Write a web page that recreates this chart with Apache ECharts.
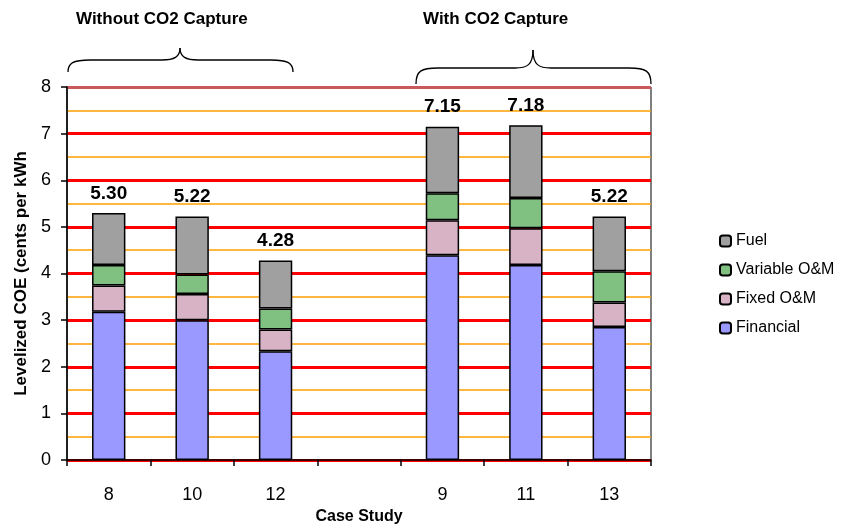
<!DOCTYPE html>
<html>
<head>
<meta charset="utf-8">
<title>Levelized COE by Case Study</title>
<script src="https://cdn.jsdelivr.net/npm/echarts@6/dist/echarts.min.js"></script>
<style>
  html, body { margin: 0; padding: 0; background: #fff; }
  #chart { width: 843px; height: 525px; }
</style>
</head>
<body>
<div id="chart"></div>
<script>
// Case studies (blank slot separates the two groups)
const caseStudies = ['8', '10', '12', '', '9', '11', '13'];

// Cost components, cents per kWh
const financial   = [3.18, 3.00, 2.33, null, 4.39, 4.18, 2.85];
const fixedOM     = [0.56, 0.56, 0.47, null, 0.75, 0.79, 0.53];
const variableOM  = [0.44, 0.42, 0.45, null, 0.58, 0.65, 0.67];
const fuel        = [1.12, 1.24, 1.03, null, 1.43, 1.56, 1.17];

const yTicks = [0, 1, 2, 3, 4, 5, 6, 7, 8];

const groupTitles = ['Without CO2 Capture', 'With CO2 Capture'];

function totalAt(i) {
  if (financial[i] == null) return null;
  return financial[i] + fixedOM[i] + variableOM[i] + fuel[i];
}

const chart = echarts.init(document.getElementById('chart'), null, { renderer: 'canvas' });

const FONT = 'Liberation Sans, Arial, sans-serif';
const barBorder = { borderColor: '#000', borderWidth: 1.5 };

function barSeries(name, data, color, extra) {
  return Object.assign({
    name: name,
    type: 'bar',
    stack: 'coe',
    barWidth: '40%',
    data: data,
    itemStyle: Object.assign({ color: color }, barBorder),
    emphasis: { disabled: true }
  }, extra || {});
}

// Curly brace opening downward, spanning x0..x1 with its point at xm
function braceElements(x0, x1, xm, yEnd, yMid, yTip) {
  const st = { fill: null, stroke: '#000', lineWidth: 1.3 };
  const curve = function (a, b, c1, c2) {
    return {
      type: 'bezierCurve', silent: true,
      shape: { x1: a[0], y1: a[1], x2: b[0], y2: b[1], cpx1: c1[0], cpy1: c1[1], cpx2: c2[0], cpy2: c2[1] },
      style: st
    };
  };
  const seg = function (a, b) {
    return { type: 'line', silent: true, shape: { x1: a[0], y1: a[1], x2: b[0], y2: b[1] }, style: st };
  };
  return [
    curve([x0, yEnd], [x0 + 22, yMid], [x0, yMid + 3], [x0 + 5, yMid]),
    seg([x0 + 22, yMid], [xm - 18, yMid]),
    curve([xm - 18, yMid], [xm, yTip], [xm - 6, yMid], [xm, yMid - 3]),
    curve([xm, yTip], [xm + 18, yMid], [xm, yMid - 3], [xm + 6, yMid]),
    seg([xm + 18, yMid], [x1 - 22, yMid]),
    curve([x1 - 22, yMid], [x1, yEnd], [x1 - 5, yMid], [x1, yMid + 3])
  ];
}

const gridLineColors = yTicks.map(function (v, i) {
  return i === yTicks.length - 1 ? '#C85A5A' : '#FF0000';
});

const option = {
  animation: false,
  backgroundColor: '#fff',
  textStyle: { fontFamily: FONT },
  grid: {
    left: 67, right: 192, top: 87, bottom: 65,
    outerBoundsMode: 'none',
    containLabel: false,
    show: true, borderColor: '#000', borderWidth: 1, backgroundColor: 'transparent'
  },
  legend: {
    orient: 'vertical',
    left: 714,
    top: 228,
    itemWidth: 11,
    itemHeight: 11,
    itemGap: 13,
    selectedMode: false,
    data: ['Fuel', 'Variable O&M', 'Fixed O&M', 'Financial'],
    textStyle: { fontFamily: FONT, fontSize: 16, color: '#000' }
  },
  xAxis: {
    type: 'category',
    data: caseStudies,
    name: 'Case Study',
    nameLocation: 'middle',
    nameGap: 48,
    nameTextStyle: { fontFamily: FONT, fontSize: 16, fontWeight: 'bold', color: '#000' },
    axisLine: { lineStyle: { color: '#000', width: 1.5 } },
    axisTick: { show: true, length: 6, alignWithLabel: false, lineStyle: { color: '#000', width: 1.5 } },
    axisLabel: { fontFamily: FONT, fontSize: 18, color: '#000', margin: 26, interval: 0 },
    splitLine: { show: false }
  },
  yAxis: {
    type: 'value',
    min: yTicks[0],
    max: yTicks[yTicks.length - 1],
    interval: 1,
    name: 'Levelized COE (cents per kWh',
    nameLocation: 'middle',
    nameRotate: 90,
    nameGap: 37,
    nameTextStyle: { fontFamily: FONT, fontSize: 17, fontWeight: 'bold', color: '#000' },
    axisLine: { show: true, lineStyle: { color: '#000', width: 1.5 } },
    axisTick: { show: true, inside: false, length: 6, lineStyle: { color: '#000', width: 1.5 } },
    axisLabel: { fontFamily: FONT, fontSize: 18, color: '#000', margin: 16 },
    splitLine: { show: true, lineStyle: { color: gridLineColors, width: 3 } },
    minorTick: { show: false, splitNumber: 2 },
    minorSplitLine: { show: true, lineStyle: { color: '#FFA000', width: 1.5 } }
  },
  series: [
    barSeries('Financial', financial, '#9999FF'),
    barSeries('Fixed O&M', fixedOM, '#D8B3C5'),
    barSeries('Variable O&M', variableOM, '#80C080'),
    barSeries('Fuel', fuel, '#A0A0A0', {
      label: {
        show: true,
        position: 'top',
        distance: 10,
        fontFamily: FONT,
        fontSize: 19,
        fontWeight: 'bold',
        color: '#000',
        formatter: function (p) {
          const t = totalAt(p.dataIndex);
          return t == null ? '' : t.toFixed(2);
        }
      }
    })
  ],
  graphic: [
    {
      type: 'text', left: 76, top: 11, silent: true,
      style: { text: groupTitles[0], font: 'bold 17px ' + FONT, fill: '#000' }
    },
    {
      type: 'text', left: 423, top: 11, silent: true,
      style: { text: groupTitles[1], font: 'bold 17px ' + FONT, fill: '#000' }
    }
  ].concat(braceElements(68, 293, 180, 72, 60, 48))
   .concat(braceElements(416, 651, 533, 84, 68, 50))
};

chart.setOption(option);
</script>
</body>
</html>
